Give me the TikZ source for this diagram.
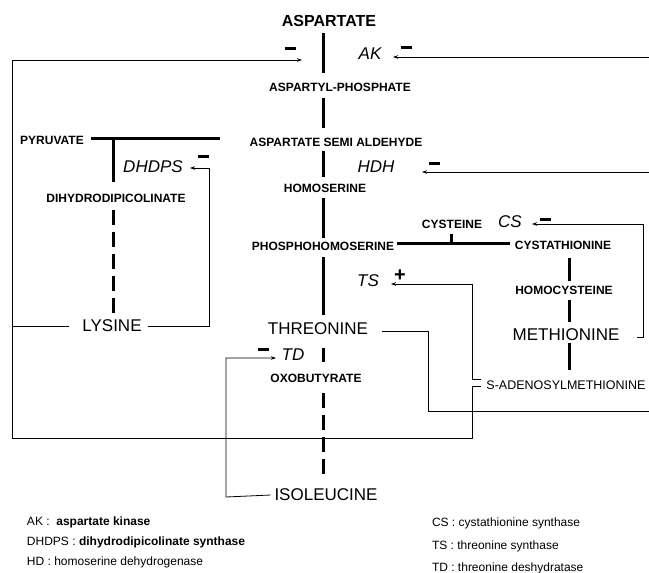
\documentclass[tikz,border=0pt]{standalone}
\usepackage{fontspec}
\setmainfont{Liberation Sans}
\usetikzlibrary{arrows.meta}
\begin{document}
\begin{tikzpicture}[x=1pt,y=-1pt,
  every node/.style={inner sep=0pt, outer sep=0pt},
  big/.style={font=\fontsize{17}{20}\selectfont},
  bigb/.style={font=\fontsize{16}{19}\selectfont\bfseries},
  small/.style={font=\fontsize{12}{14}\selectfont\bfseries},
  enz/.style={font=\fontsize{17}{20}\selectfont\itshape},
  sign/.style={font=\fontsize{20}{22}\selectfont\bfseries},
  leg/.style={font=\fontsize{12}{14}\selectfont, anchor=west},
  pw/.style={line width=3pt},
  pwd/.style={line width=3pt, dash pattern=on 15pt off 7pt},
  fb/.style={line width=0.8pt},
  fba/.style={line width=0.8pt, -{Stealth[length=5pt,width=3.5pt]}},
]
\newcommand{\minusbar}{\rule{11pt}{3pt}}
\useasboundingbox (0,0) rectangle (649,573);
\coordinate (ax) at (323,0);
\coordinate (mx) at (569,0);
\coordinate (lx) at (113,0);

% main pathway
\node[bigb] (asp) at (329,21) {ASPARTATE};
\node[small] (aspp) at (340,87) {ASPARTYL-PHOSPHATE};
\node[small] (asa) at (336,142) {ASPARTATE SEMI ALDEHYDE};
\node[small] (hser) at (325,188) {HOMOSERINE};
\node[small] (phser) at (323,246) {PHOSPHOHOMOSERINE};
\node[big] (thr) at (318,329) {THREONINE};
\node[small] (oxo) at (316,378) {OXOBUTYRATE};
\node[big] (ile) at (326,495) {ISOLEUCINE};
% lysine branch
\node[small] (pyr) at (52,140) {PYRUVATE};
\node[small] (dhdp) at (116,198) {DIHYDRODIPICOLINATE};
\node[big] (lys) at (112,326) {LYSINE};
% methionine branch
\node[small] (cys) at (452,224) {CYSTEINE};
\node[small] (cysta) at (563,245) {CYSTATHIONINE};
\node[small] (hcys) at (564,290) {HOMOCYSTEINE};
\node[big] (met) at (566,335) {METHIONINE};
\node[font=\fontsize{12.5}{15}\selectfont] (sam) at (566,385) {S-ADENOSYLMETHIONINE};

% enzymes
\node[enz] (ak) at (370,54) {AK};
\node[enz] (hdh) at (376,167) {HDH};
\node[enz] (cs) at (510,222) {CS};
\node[enz] (ts) at (368,281) {TS};
\node[enz] (td) at (293,355) {TD};
\node[enz] (dhdps) at (153,167) {DHDPS};

% signs
\node (m1) at (290,48) {\minusbar};
\node (m2) at (406,47) {\minusbar};
\node (m3) at (434,163) {\minusbar};
\node (m4) at (545,219) {\minusbar};
\node (m5) at (263,349) {\minusbar};
\node (m6) at (203,156) {\minusbar};
\node[sign] (p1) at (400,276) {+};

% main pathway connectors
\draw[pw,shorten <=6pt,shorten >=10pt] (asp.south -| ax) -- (aspp.north -| ax);
\draw[pw,shorten <=6.7pt,shorten >=9.7pt] (aspp.south -| ax) -- (asa.north -| ax);
\draw[pw,shorten <=4.7pt,shorten >=6.7pt] (asa.south -| ax) -- (hser.north -| ax);
\draw[pw,shorten <=5.7pt,shorten >=3.7pt] (hser.south -| ax) -- (phser.north -| ax);
\draw[pw,shorten <=6.7pt,shorten >=7.9pt] (phser.south -| ax) -- (thr.north -| ax);
\draw[pw,shorten <=12.9pt,shorten >=11.7pt] (thr.south -| ax) -- (oxo.north -| ax);
\draw[pwd,shorten <=10.7pt,shorten >=13.9pt] (oxo.south -| ax) -- (ile.north -| ax);

% lysine branch connectors
\coordinate (pyrend) at (220,138);
\coordinate (pyrj) at (113,138);
\draw[pw] ([xshift=7pt]pyr.east |- pyrend) -- (pyrend);
\draw[pw,shorten >=11.7pt] (pyrj) -- (dhdp.north -| lx);
\draw[pwd,shorten <=7.7pt,shorten >=4.9pt] (dhdp.south -| lx) -- (lys.north -| lx);

% methionine branch connectors
\coordinate (cj1) at (397,243);
\coordinate (cj2) at (510,243);
\draw[pw] (cj1) -- (cj2);
\draw[pw,shorten <=5.5pt] (cys.south -| 451,0) -- (cj1 -| 451,0);
\draw[pw,shorten <=8.7pt,shorten >=4.7pt] (cysta.south -| mx) -- (hcys.north -| mx);
\draw[pw,shorten <=5.7pt,shorten >=6.9pt] (hcys.south -| mx) -- (met.north -| mx);
\draw[pw,shorten <=1.9pt,shorten >=10.5pt] (met.south -| mx) -- (sam.north -| mx);

% feedback connectors
\coordinate (akL) at (302,60);
\coordinate (lft) at (12,0);
\draw[fb] ([xshift=-13pt]lys.west) -- (lys.west -| lft);
\draw[fba] (481,386) -- (472,386) -- (472,438) -- (12,438) -- (12,60) -- (akL);
\draw[fba] (481,379) -- (472,379) -- (472,284) -- (391,284);
\draw[fba] ([xshift=6pt]lys.east) -- (209,326) -- (209,168) -- (190,168);
\draw[fb] ([xshift=14pt]thr.east |- 0,331) -- (428,331) -- (428,411) -- (649,411);
\draw[fba] (649,57) -- (393,57);
\draw[fba] (649,172) -- (422,172);
\draw[fba] (637,337) -- (643,337) -- (643,224) -- (532,224);
\draw[fba] ([xshift=-4pt]ile.west) -- (226,497) -- (226,358) -- (276,358);

% legend
\node[leg] (l1) at (27,522) {AK :\ \ \textbf{aspartate kinase}};
\node[leg] (l2) at (27,542) {DHDPS : \textbf{dihydrodipicolinate synthase}};
\node[leg] (l3) at (27,562) {HD : homoserine dehydrogenase};
\node[leg] (l4) at (432,523) {CS : cystathionine synthase};
\node[leg] (l5) at (432,546) {TS : threonine synthase};
\node[leg] (l6) at (432,568) {TD : threonine deshydratase};
\end{tikzpicture}
\end{document}
